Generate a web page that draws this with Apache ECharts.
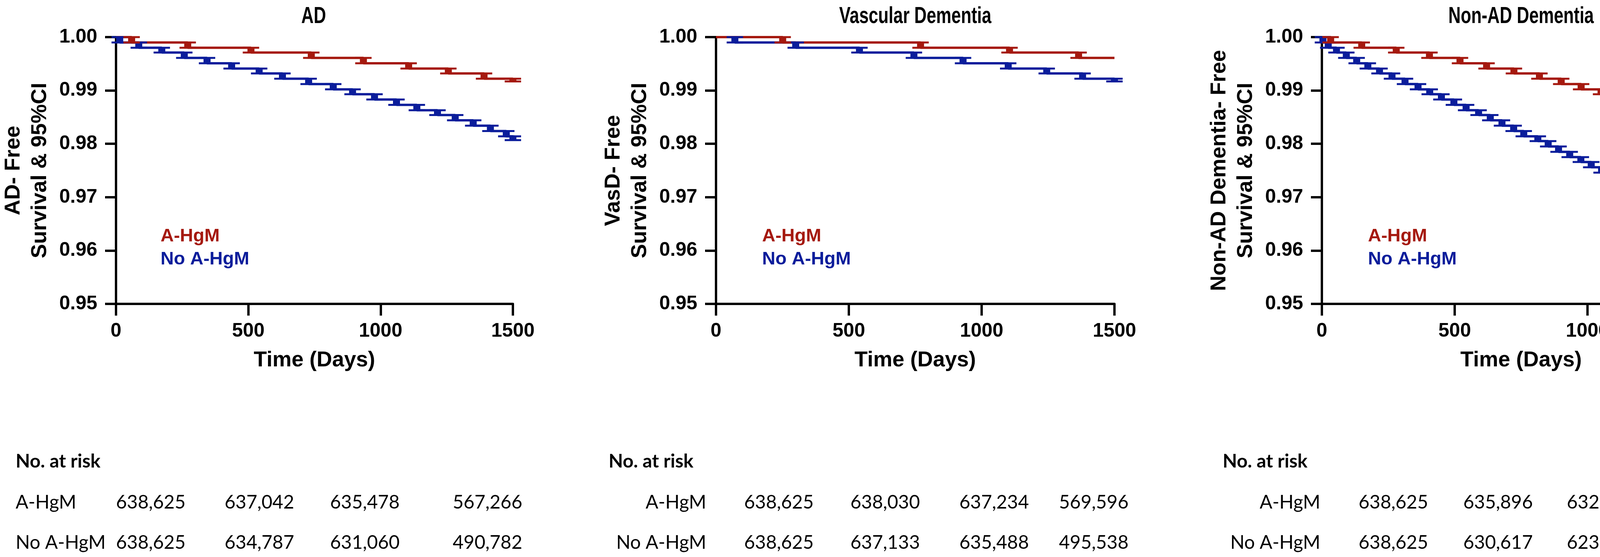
<!DOCTYPE html>
<html>
<head>
<meta charset="utf-8">
<script src="https://cdn.jsdelivr.net/npm/echarts@6/dist/echarts.min.js"></script>
<style>
html, body { margin: 0; padding: 0; background: #fff; }
#chart { width: 4550px; height: 1426px; }
</style>
</head>
<body>
<div id="chart"></div>
<script>
var RED = '#A5190F';
var BLUE = '#0B1D9B';
var FONT = 'Liberation Sans, Arial, sans-serif';
var TABLE_FONT = 'Lato, Noto Sans, sans-serif';

var TITLES = ['AD', 'Vascular Dementia', 'Non-AD Dementia'];
var Y_NAMES = ['AD- Free\nSurvival & 95%CI', 'VasD- Free\nSurvival & 95%CI', 'Non-AD Dementia- Free\nSurvival & 95%CI'];
var GROUPS = ['A-HgM', 'No A-HgM'];

// AD
var AD_RED_DAYS = [0, 59, 271, 510, 738, 935, 1106, 1256, 1391, 1500];
var AD_RED_SURV = [1.0, 0.9990, 0.9980, 0.9971, 0.9961, 0.9951, 0.9941, 0.9932, 0.9922, 0.9917];
var AD_BLUE_DAYS = [0, 14, 86, 173, 258, 344, 437, 541, 629, 728, 821, 894, 977, 1060, 1137, 1215, 1282, 1350, 1415, 1475, 1500];
var AD_BLUE_SURV = [1.0, 0.9990, 0.9980, 0.9971, 0.9961, 0.9951, 0.9941, 0.9932, 0.9922, 0.9912, 0.9902, 0.9893, 0.9883, 0.9873, 0.9863, 0.9854, 0.9844, 0.9834, 0.9824, 0.9814, 0.9807];

// Vascular dementia
var VD_RED_DAYS = [0, 251, 770, 1105, 1365, 1500];
var VD_RED_SURV = [1.0, 0.9990, 0.9980, 0.9971, 0.9961, 0.9961];
var VD_BLUE_DAYS = [0, 71, 300, 540, 745, 930, 1100, 1245, 1380, 1500];
var VD_BLUE_SURV = [1.0, 0.9990, 0.9980, 0.9971, 0.9961, 0.9951, 0.9941, 0.9932, 0.9922, 0.9917];

// Non-AD dementia
var NAD_RED_DAYS = [0, 33, 150, 280, 405, 520, 620, 723, 819, 901, 976, 1051, 1120, 1188, 1250, 1311, 1366, 1415, 1460, 1497, 1500];
var NAD_RED_SURV = [1.0, 0.9990, 0.9980, 0.9971, 0.9961, 0.9951, 0.9941, 0.9932, 0.9922, 0.9912, 0.9902, 0.9893, 0.9883, 0.9873, 0.9863, 0.9854, 0.9844, 0.9834, 0.9824, 0.9816, 0.9812];
var NAD_BLUE_DAYS = [0, 4, 24, 55, 92, 131, 173, 217, 264, 313, 362, 406, 450, 497, 543, 590, 634, 678, 722, 760,
    813, 852, 891, 933, 975, 1014, 1053, 1092, 1126, 1156, 1185, 1217, 1249, 1278, 1310, 1342, 1374, 1406, 1438, 1470, 1497, 1500];
var NAD_BLUE_SURV = [1.0, 0.9990, 0.9980, 0.9971, 0.9961, 0.9951, 0.9941, 0.9932, 0.9922, 0.9912,
    0.9902, 0.9893, 0.9883, 0.9873, 0.9863, 0.9854, 0.9844, 0.9834, 0.9824, 0.9814,
    0.9805, 0.9795, 0.9785, 0.9775, 0.9766, 0.9756, 0.9746, 0.9736, 0.9727, 0.9717,
    0.9707, 0.9697, 0.9688, 0.9678, 0.9668, 0.9658, 0.9648, 0.9639, 0.9629, 0.9619, 0.9609, 0.9603];

// numbers at risk (days 0 / 500 / 1000 / 1500)
var RISK_AD_A = [638625, 637042, 635478, 567266];
var RISK_AD_NO = [638625, 634787, 631060, 490782];
var RISK_VD_A = [638625, 638030, 637234, 569596];
var RISK_VD_NO = [638625, 637133, 635488, 495538];
var RISK_NAD_A = [638625, 635896, 632349, 562719];
var RISK_NAD_NO = [638625, 630617, 623125, 482839];

var PANELS = [
    {red: [AD_RED_DAYS, AD_RED_SURV], blue: [AD_BLUE_DAYS, AD_BLUE_SURV], risk: [RISK_AD_A, RISK_AD_NO]},
    {red: [VD_RED_DAYS, VD_RED_SURV], blue: [VD_BLUE_DAYS, VD_BLUE_SURV], risk: [RISK_VD_A, RISK_VD_NO]},
    {red: [NAD_RED_DAYS, NAD_RED_SURV], blue: [NAD_BLUE_DAYS, NAD_BLUE_SURV], risk: [RISK_NAD_A, RISK_NAD_NO]}
];

// layout
var GRID_LEFT = [293, 1833, 3384];
var GRID_W = 1020;
var GRID_TOP = 95;
var GRID_H = 683;

// table layout per panel
var TABLE = [
    {head: 40, label: 40, labelAlign: 'left', cols: [386, 664, 934, 1248]},
    {head: 1558, label: 1808, labelAlign: 'right', cols: [1994, 2266, 2545, 2800]},
    {head: 3130, label: 3380, labelAlign: 'right', cols: [3567, 3835, 4100, 4350]}
];
var ROW_Y = [1182, 1287, 1390];

function pairs(days, surv) {
    return days.map(function (d, i) { return [d, surv[i]]; });
}
function steps(days, surv) {
    var out = [];
    for (var i = 1; i < days.length; i++) {
        if (surv[i] !== surv[i - 1]) out.push([days[i], surv[i - 1], surv[i]]);
    }
    return out;
}

// CI block + caps at every drop
function ciItem(params, api) {
    var top = api.coord([api.value(0), api.value(1)]);
    var bot = api.coord([api.value(0), api.value(2)]);
    var col = api.visual('color');
    var half = 9, cap = 21;
    return {
        type: 'group',
        children: [
            {type: 'rect', shape: {x: top[0] - half, y: top[1] - 2, width: half * 2, height: bot[1] - top[1] + 4}, style: {fill: col}},
            {type: 'line', shape: {x1: top[0] - cap, y1: top[1], x2: top[0] + cap, y2: top[1]}, style: {stroke: col, lineWidth: 5}},
            {type: 'line', shape: {x1: bot[0] - cap, y1: bot[1], x2: bot[0] + cap, y2: bot[1]}, style: {stroke: col, lineWidth: 5}}
        ]
    };
}

var chart = echarts.init(document.getElementById('chart'));

var grids = [], xAxes = [], yAxes = [], legends = [], series = [], graphics = [];

PANELS.forEach(function (p, i) {
    grids.push({left: GRID_LEFT[i], top: GRID_TOP, width: GRID_W, height: GRID_H});
    // panel title, condensed bold like the original
    graphics.push({type: 'text', x: GRID_LEFT[i] + GRID_W / 2, y: 42, scaleX: 0.73,
        style: {text: TITLES[i], font: 'bold 60px ' + FONT, fill: '#000', align: 'center', verticalAlign: 'middle'}});
    xAxes.push({
        gridIndex: i, type: 'value', min: 0, max: 1500, interval: 500,
        name: 'Time (Days)', nameLocation: 'middle', nameGap: 117,
        nameTextStyle: {fontSize: 55, fontWeight: 'bold', color: '#000', fontFamily: FONT},
        axisLine: {onZero: false, lineStyle: {color: '#000', width: 6}},
        axisTick: {length: 30, lineStyle: {color: '#000', width: 6}},
        axisLabel: {margin: 45, fontSize: 50, fontWeight: 'bold', color: '#000', fontFamily: FONT,
            formatter: function (v) { return String(v); }},
        splitLine: {show: false}
    });
    yAxes.push({
        gridIndex: i, type: 'value', min: 0.95, max: 1.0, interval: 0.01,
        name: Y_NAMES[i], nameLocation: 'middle', nameRotate: 90, nameGap: 160,
        nameTextStyle: {fontSize: 55, fontWeight: 'bold', color: '#000', fontFamily: FONT, lineHeight: 68},
        axisLine: {show: true, onZero: false, lineStyle: {color: '#000', width: 6}},
        axisTick: {show: true, length: 28, lineStyle: {color: '#000', width: 6}},
        axisLabel: {margin: 48, fontSize: 50, fontWeight: 'bold', color: '#000', fontFamily: FONT,
            formatter: function (v) { return v.toFixed(2); }},
        splitLine: {show: false}
    });
    legends.push({
        orient: 'vertical', left: GRID_LEFT[i] + 112, top: 582, padding: 0,
        itemWidth: 0, itemHeight: 0, itemGap: 12, selectedMode: false,
        textStyle: {fontSize: 47, fontWeight: 'bold', fontFamily: FONT},
        data: [{name: GROUPS[0], textStyle: {color: RED}}, {name: GROUPS[1], textStyle: {color: BLUE}}]
    });

    [[p.blue, BLUE, GROUPS[1]], [p.red, RED, GROUPS[0]]].forEach(function (s) {
        series.push({
            name: s[2], type: 'line', step: 'end', xAxisIndex: i, yAxisIndex: i,
            data: pairs(s[0][0], s[0][1]), showSymbol: false, color: s[1],
            lineStyle: {width: 6, color: s[1]}, z: 3
        });
        series.push({
            name: s[2], type: 'custom', xAxisIndex: i, yAxisIndex: i,
            data: steps(s[0][0], s[0][1]), encode: {x: 0, y: [1, 2]},
            renderItem: ciItem, itemStyle: {color: s[1]}, z: 4
        });
    });

    // numbers at risk table
    var t = TABLE[i];
    graphics.push({type: 'text', x: t.head, y: ROW_Y[0],
        style: {text: 'No. at risk', font: 'bold 48px ' + TABLE_FONT, fill: '#000', align: 'left', verticalAlign: 'middle'}});
    GROUPS.forEach(function (g, r) {
        graphics.push({type: 'text', x: t.label, y: ROW_Y[r + 1],
            style: {text: g, font: '48px ' + TABLE_FONT, fill: '#000', align: t.labelAlign, verticalAlign: 'middle'}});
        p.risk[r].forEach(function (n, c) {
            graphics.push({type: 'text', x: t.cols[c], y: ROW_Y[r + 1],
                style: {text: n.toLocaleString('en-US'), font: '48px ' + TABLE_FONT, fill: '#000', align: 'center', verticalAlign: 'middle'}});
        });
    });
});

chart.setOption({
    animation: false,
    backgroundColor: '#fff',
    legend: legends,
    grid: grids,
    xAxis: xAxes,
    yAxis: yAxes,
    series: series,
    graphic: graphics
});
</script>
</body>
</html>
